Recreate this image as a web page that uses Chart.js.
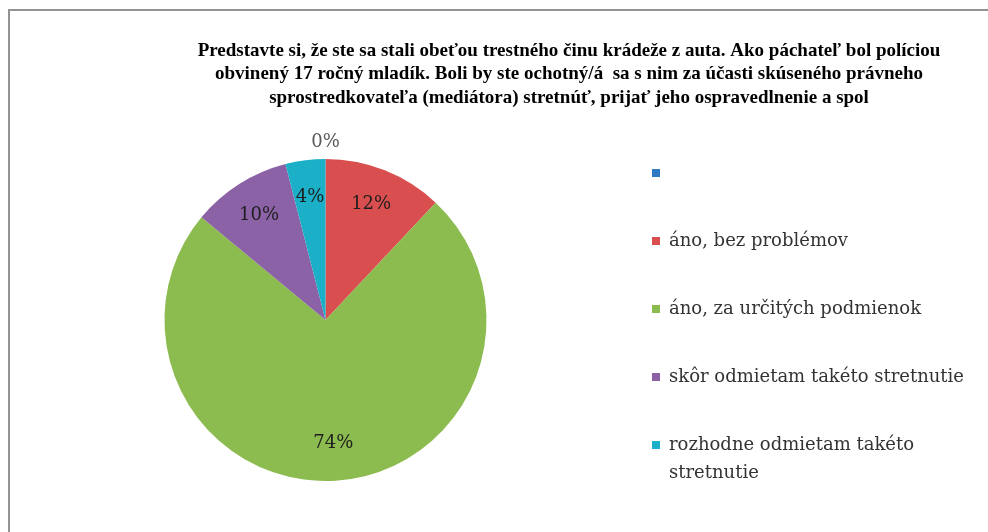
<!DOCTYPE html>
<html>
<head>
<meta charset="utf-8">
<script src="https://cdn.jsdelivr.net/npm/chart.js@4.4.0/dist/chart.umd.min.js"></script>
<style>
  html, body { margin: 0; padding: 0; background: #fff; overflow: hidden; }
  #box { position: absolute; left: 8px; top: 9px; width: 1118px; height: 600px; border: 2px solid #939393; background: #fff; }
  canvas { display: block; }
</style>
</head>
<body>
<div id="box"><canvas id="myChart" width="1118" height="600"></canvas></div>
<script>
const titulok = [
  "Predstavte si, že ste sa stali obeťou trestného činu krádeže z auta. Ako páchateľ bol políciou",
  "obvinený 17 ročný mladík. Boli by ste ochotný/á  sa s nim za účasti skúseného právneho",
  "sprostredkovateľa (mediátora) stretnúť, prijať jeho ospravedlnenie a spol"
];
const kategorie = [
  "",
  "áno, bez problémov",
  "áno, za určitých podmienok",
  "skôr odmietam takéto stretnutie",
  ["rozhodne odmietam takéto", "stretnutie"]
];
const hodnoty = [0, 12, 74, 10, 4];
const farby = ["#2E7BC4", "#D94F4F", "#8CBB4F", "#8C62A6", "#1BB0C8"];

const pismoLegendy = { family: "DejaVu Serif", size: 18, lineHeight: 1.55 };
const medzera = 50;

// pravy okraj tak, aby legenda zacinala pri x = 643
const mer = document.createElement("canvas").getContext("2d");
mer.font = pismoLegendy.size + 'px "DejaVu Serif"';
let najdlhsi = 0;
kategorie.flat().forEach((t) => {
  najdlhsi = Math.max(najdlhsi, mer.measureText(t).width);
});
const pravyOkraj = 1118 - 643 - (najdlhsi + 8 + pismoLegendy.size);

// nadpis kreslime sami, aby bol v strede celej plochy
const nadpisPlugin = {
  id: "nadpis",
  afterDraw(chart) {
    const ctx = chart.ctx;
    ctx.save();
    ctx.font = 'bold 19px "Liberation Serif"';
    ctx.fillStyle = "#000";
    ctx.textAlign = "center";
    ctx.textBaseline = "middle";
    titulok.forEach((riadok, i) => {
      ctx.fillText(riadok, chart.width / 2, 40 + i * 23.5);
    });
    ctx.restore();
  }
};

const percentaPlugin = {
  id: "percenta",
  afterDatasetsDraw(chart) {
    const ctx = chart.ctx;
    const meta = chart.getDatasetMeta(0);
    const data = chart.data.datasets[0].data;
    const spolu = data.reduce((a, b) => a + b, 0);
    ctx.save();
    ctx.font = '18px "DejaVu Serif"';
    ctx.textAlign = "center";
    ctx.textBaseline = "middle";
    meta.data.forEach((arc, i) => {
      const p = arc.getProps(["x", "y", "startAngle", "endAngle", "outerRadius"], true);
      const uhol = (p.startAngle + p.endAngle) / 2;
      const r = data[i] === 0 ? p.outerRadius + 17 : p.outerRadius * 0.77;
      ctx.fillStyle = data[i] === 0 ? "#595959" : "#1e1e1e";
      ctx.fillText(
        Math.round((data[i] / spolu) * 100) + "%",
        p.x + Math.cos(uhol) * r,
        p.y + Math.sin(uhol) * r
      );
    });
    ctx.restore();
  }
};

const grafika = document.getElementById("myChart").getContext("2d");
const myChart = new Chart(grafika, {
  type: "pie",
  data: {
    labels: kategorie,
    datasets: [
      {
        data: hodnoty,
        backgroundColor: farby,
        borderWidth: 0,
        hoverOffset: 0,
        radius: 161
      }
    ]
  },
  options: {
    responsive: false,
    animation: false,
    devicePixelRatio: 1,
    events: [],
    layout: {
      padding: { left: 39, right: pravyOkraj, top: 60, bottom: 42 }
    },
    plugins: {
      tooltip: { enabled: false },
      title: { display: false },
      legend: {
        display: true,
        position: "right",
        align: "start",
        title: {
          display: true,
          text: "",
          font: { size: 10, lineHeight: 1 },
          padding: { top: 0, bottom: 33 }
        },
        labels: {
          boxWidth: 8,
          boxHeight: 8,
          padding: medzera,
          color: "#333",
          font: pismoLegendy
        }
      }
    }
  },
  plugins: [percentaPlugin, nadpisPlugin]
});
</script>
</body>
</html>
